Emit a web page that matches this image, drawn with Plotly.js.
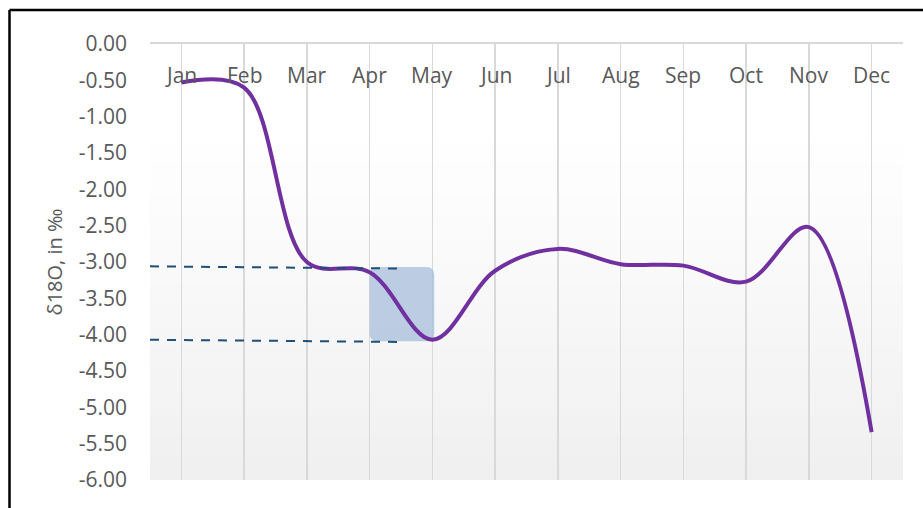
<!DOCTYPE html>
<html>
<head>
<meta charset="utf-8">
<script src="https://cdn.plot.ly/plotly-3.0.1.min.js"></script>
<style>
  html, body { margin: 0; padding: 0; background: #ffffff; }
  #chart { width: 923px; height: 508px; }
</style>
</head>
<body>
<div id="chart"></div>
<script>
// ---- data ----
const months = ["Jan", "Feb", "Mar", "Apr", "May", "Jun", "Jul", "Aug", "Sep", "Oct", "Nov", "Dec"];
const d18O = [-0.53, -0.60, -3.00, -3.14, -4.07, -3.12, -2.82, -3.03, -3.05, -3.27, -2.52, -5.34];
const yTickVals = [0, -0.5, -1, -1.5, -2, -2.5, -3, -3.5, -4, -4.5, -5, -5.5, -6];
const yTickText = ["0.00", "-0.50", "-1.00", "-1.50", "-2.00", "-2.50", "-3.00", "-3.50", "-4.00", "-4.50", "-5.00", "-5.50", "-6.00"];
const yTitle = "δ18O, in ‰";
// reference band (dashed lines) and highlighted months
const refUpper = [-3.06, -3.09];   // value at left edge, value at right end of dashes
const refLower = [-4.07, -4.10];
const refEndX = 3.48;              // dashed lines end (category units)
const highlightFrom = "Apr";
const highlightTo = "May";

// ---- styling helpers ----
const textColor = "#595959";
const font = "Open Sans, sans-serif";

const shapes = [];

// gradient background in the plot area (white -> light gray)
const nBands = 40;
for (let i = 0; i < nBands; i++) {
  const t = i / (nBands - 1);
  const f = Math.max(0, (t - 0.2) / 0.8);
  const v = Math.round(255 - f * 15);
  shapes.push({
    type: "rect", xref: "paper", yref: "paper", layer: "below",
    x0: 0, x1: 1, y0: 1 - (i + 1) / nBands, y1: 1 - i / nBands + 0.001,
    line: { width: 0 }, fillcolor: `rgb(${v},${v},${v})`
  });
}

// highlighted rounded box between Apr and May (under the line, over the grid)
const hx0 = months.indexOf(highlightFrom);
const hx1 = months.indexOf(highlightTo) + 0.03;
const hy0 = refUpper[1] + 0.02;
const hy1 = refLower[1] + 0.01;
const rx = 0.13, ry = 0.11;
const boxPath =
  `M ${hx0 + rx},${hy0} L ${hx1 - rx},${hy0} Q ${hx1},${hy0} ${hx1},${hy0 - ry} ` +
  `L ${hx1},${hy1 + ry} Q ${hx1},${hy1} ${hx1 - rx},${hy1} ` +
  `L ${hx0 + rx},${hy1} Q ${hx0},${hy1} ${hx0},${hy1 + ry} ` +
  `L ${hx0},${hy0 - ry} Q ${hx0},${hy0} ${hx0 + rx},${hy0} Z`;
shapes.push({
  type: "path", xref: "x", yref: "y", layer: "between", path: boxPath,
  fillcolor: "rgb(161,185,218)", opacity: 0.7, line: { width: 0 }
});

// dashed reference lines
shapes.push({
  type: "line", xref: "x", yref: "y", layer: "above",
  x0: -0.5, x1: refEndX, y0: refUpper[0], y1: refUpper[1],
  line: { color: "#1F4E79", width: 2, dash: "9px,8px" }
});
shapes.push({
  type: "line", xref: "x", yref: "y", layer: "above",
  x0: -0.5, x1: refEndX, y0: refLower[0], y1: refLower[1],
  line: { color: "#1F4E79", width: 2, dash: "9px,8px" }
});

// outer frame (top and left black borders)
shapes.push({
  type: "line", xref: "paper", yref: "paper",
  x0: (9.5 - 150) / 753, x1: 1.2, y0: (480 - 10) / 436, y1: (480 - 10) / 436,
  line: { color: "#000000", width: 2.5 }
});
shapes.push({
  type: "line", xref: "paper", yref: "paper",
  x0: (9.5 - 150) / 753, x1: (9.5 - 150) / 753, y0: (480 - 10) / 436, y1: -0.2,
  line: { color: "#000000", width: 2.5 }
});

// month labels sit just under the top axis line, one per category
const monthLabels = months.map(m => ({
  x: m, y: 0, xref: "x", yref: "y",
  text: m, showarrow: false,
  yanchor: "middle", yshift: -31,
  font: { family: font, size: 21, color: textColor }
}));

const trace = {
  type: "scatter", mode: "lines",
  x: months, y: d18O,
  line: { color: "#7030A0", width: 4, shape: "spline", smoothing: 1 },
  hoverinfo: "x+y"
};

const layout = {
  width: 923, height: 508,
  margin: { l: 150, r: 20, t: 44, b: 28 },
  paper_bgcolor: "#ffffff",
  plot_bgcolor: "rgba(0,0,0,0)",
  showlegend: false,
  font: { family: font, color: textColor, size: 21 },
  xaxis: {
    type: "category",
    categoryorder: "array", categoryarray: months,
    range: [-0.5, 11.5],
    side: "top",
    showticklabels: false,
    ticks: "",
    showline: true, linecolor: "#d9d9d9", linewidth: 2,
    showgrid: true, gridcolor: "#d9d9d9", gridwidth: 1.5,
    zeroline: false,
    fixedrange: true
  },
  yaxis: {
    range: [-6, 0],
    tickmode: "array", tickvals: yTickVals, ticktext: yTickText,
    ticks: "",
    ticklabelstandoff: 22,
    showgrid: false, zeroline: false, showline: false,
    tickfont: { family: font, size: 21, color: textColor },
    title: { text: yTitle, font: { family: font, size: 20, color: textColor }, standoff: 10 },
    fixedrange: true
  },
  shapes: shapes,
  annotations: monthLabels
};

Plotly.newPlot("chart", [trace], layout, { displayModeBar: false, staticPlot: true });
</script>
</body>
</html>
